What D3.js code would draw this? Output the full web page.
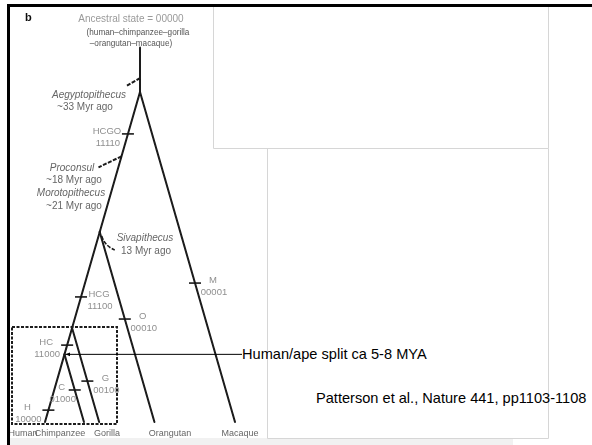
<!DOCTYPE html>
<html>
<head>
<meta charset="utf-8">
<script src="https://cdn.jsdelivr.net/npm/d3@7"></script>
<style>
  html, body { margin: 0; padding: 0; background: #fff; }
  svg { display: block; font-family: "Liberation Sans", Arial, sans-serif; }
</style>
</head>
<body>
<svg id="chart" width="592" height="445"></svg>
<script>
// Primate tree: topology and relative node heights (0 = present day)
const nodeIds      = ["root", "HCGO", "Macaque", "HCG", "Orangutan", "HC", "Gorilla", "Human", "Chimpanzee"];
const nodeParents  = ["",     "root", "root",    "HCGO", "HCGO",     "HCG", "HCG",    "HC",    "HC"];
const nodeHeights  = [10,     5.76,   0,         2.85,  0,           2.05, 0,         0,       0];
const stemHeight   = 11.35;

// Leaf captions
const taxa = ["Human", "Chimpanzee", "Gorilla", "Orangutan", "Macaque"];

// Derived-state markers on branches
const markerNames   = ["HCGO", "M", "HCG", "O", "HC", "G", "H", "C"];
const markerCodes   = ["11110", "00001", "11100", "00010", "11000", "00100", "10000", "01000"];
const markerBranch  = ["HCGO", "Macaque", "HCG", "Orangutan", "HC", "Gorilla", "Human", "Chimpanzee"];
const markerHeights = [8.73, 4.21, 3.79, 3.12, 2.33, 1.24, 0.36, 0.97];
const markerSide    = ["left", "right", "right", "right", "left", "right", "left", "inner"];

// Fossil calibrations
const fossils    = ["Aegyptopithecus", "Proconsul", "Morotopithecus", "Sivapithecus"];
const fossilAges = ["~33 Myr ago", "~18 Myr ago", "~21 Myr ago", "13 Myr ago"];

const svg = d3.select("#chart");

// Scales: height units -> vertical pixels, branch units -> horizontal pixels
const y = d3.scaleLinear().domain([0, 10]).range([422, 92]);
const x = d3.scaleLinear().domain([0, 20]).range([45, 235]);

// Build hierarchy
const rows = nodeIds.map((id, i) => ({ id, parent: nodeParents[i] || null, h: nodeHeights[i] }));
const root = d3.stratify().id(d => d.id).parentId(d => d.parent)(rows);

// Layout: the left child continues the left edge, the right child splits off
// symmetrically, so every branch has the same slope.
root.u = root.data.h;
root.eachBefore(n => {
  if (!n.children) return;
  n.children.forEach((c, i) => {
    const dh = n.data.h - c.data.h;
    c.u = i === 0 ? n.u - dh : n.u + dh;
  });
});
const byId = new Map(root.descendants().map(n => [n.id, n]));

// Slide frame (background parts)
svg.append("rect").attr("x", 10).attr("y", 438).attr("width", 503).attr("height", 7).attr("fill", "#f1f1f1");
const frame = svg.append("g").attr("fill", "none").attr("stroke", "#d6d6d6").attr("stroke-width", 1);
frame.append("path").attr("d", "M213.5,7 V148.5 H548.5 V438.5 H267.5 V148.5");
frame.append("path").attr("d", "M548.5,7 V148.5");

// Tree figure (softened scan)
const defs = svg.append("defs");
defs.append("filter").attr("id", "soft")
  .append("feGaussianBlur").attr("stdDeviation", 0.45);
defs.append("marker").attr("id", "arrowHead")
  .attr("viewBox", "0 0 10 10").attr("refX", 10).attr("refY", 5)
  .attr("markerWidth", 5).attr("markerHeight", 5).attr("orient", "auto")
  .append("path").attr("d", "M10,5 L0,1 L0,9 Z").attr("fill", "#000");

const fig = svg.append("g").attr("filter", "url(#soft)");

fig.append("text").attr("x", 25).attr("y", 21).attr("font-size", 11).attr("font-weight", "bold")
  .attr("fill", "#111").text("b");

const header = fig.append("g").attr("font-size", 8.2).attr("text-anchor", "middle");
header.append("text").attr("x", 131).attr("y", 22).attr("font-size", 10).attr("fill", "#9a9a9a")
  .text("Ancestral state = 00000");
header.append("text").attr("x", 138).attr("y", 35).attr("fill", "#555").text("(human\u2013chimpanzee\u2013gorilla");
header.append("text").attr("x", 131).attr("y", 46).attr("fill", "#555").text("\u2013orangutan\u2013macaque)");

// Branches
const branches = fig.append("g").attr("stroke", "#1a1a1a").attr("stroke-width", 2).attr("fill", "none")
  .attr("stroke-linecap", "round");
branches.append("line")
  .attr("x1", x(root.u)).attr("y1", y(stemHeight))
  .attr("x2", x(root.u)).attr("y2", y(root.data.h));
branches.selectAll("line.edge").data(root.links()).join("line").attr("class", "edge")
  .attr("x1", d => x(d.source.u)).attr("y1", d => y(d.source.data.h))
  .attr("x2", d => x(d.target.u)).attr("y2", d => y(d.target.data.h));

// Point along the branch leading into a node at a given height
function along(id, h) {
  const n = byId.get(id), p = n.parent;
  const t = (p.data.h - h) / (p.data.h - n.data.h);
  return [x(p.u + (n.u - p.u) * t), y(h)];
}

// Markers
const sideOffset = { left: -21, right: 18, inner: -13 };
const markers = fig.append("g").attr("font-size", 9.5).attr("fill", "#8f8f8f").attr("text-anchor", "middle");
markerNames.forEach((name, i) => {
  const [mx, my] = along(markerBranch[i], markerHeights[i]);
  markers.append("line").attr("x1", mx - 6).attr("x2", mx + 6).attr("y1", my).attr("y2", my)
    .attr("stroke", "#1a1a1a").attr("stroke-width", 1.6);
  const lx = mx + sideOffset[markerSide[i]];
  markers.append("text").attr("x", lx).attr("y", my - 3).attr("dy", "0.35em").text(name);
  markers.append("text").attr("x", lx + 1).attr("y", my + 9).attr("dy", "0.35em").text(markerCodes[i]);
});

// Fossil calibrations
const fossilGroup = fig.append("g").attr("font-size", 10).attr("text-anchor", "middle").attr("fill", "#666");
const fossilSpots = [[89, 94, 85, 106], [72, 167, 74, 179], [71, 192, 74, 205], [145, 237, 146, 250]];
fossils.forEach((f, i) => {
  const [fx, fy, ax, ay] = fossilSpots[i];
  fossilGroup.append("text").attr("x", fx).attr("y", fy).attr("dy", "0.35em")
    .attr("font-style", "italic").text(f);
  fossilGroup.append("text").attr("x", ax).attr("y", ay).attr("dy", "0.35em").text(fossilAges[i]);
});

// Pointers from fossils to the tree
const pointers = fig.append("g").attr("stroke", "#1a1a1a").attr("stroke-width", 2).attr("fill", "none")
  .attr("stroke-dasharray", "4,1.5");
const aeg = [x(root.u), y(10.42)];
pointers.append("line").attr("x1", aeg[0]).attr("y1", aeg[1]).attr("x2", aeg[0] - 14).attr("y2", aeg[1] + 8);
const pro = along("HCGO", 8.05);
pointers.append("line").attr("x1", pro[0]).attr("y1", pro[1]).attr("x2", pro[0] - 23).attr("y2", pro[1] + 11);
const siva = [x(byId.get("HCGO").u), y(byId.get("HCGO").data.h)];
pointers.append("path").attr("stroke-dasharray", null).attr("stroke-width", 1.6)
  .attr("d", `M${siva[0] + 2},${siva[1] + 4} Q${siva[0] + 5},${siva[1] + 14} ${siva[0] + 15},${siva[1] + 18}`);

// Dashed box around the human/chimp/gorilla clade
fig.append("rect").attr("x", 12).attr("y", 327).attr("width", 105).attr("height", 97)
  .attr("fill", "none").attr("stroke", "#1a1a1a").attr("stroke-width", 2).attr("stroke-dasharray", "3,1.5");

// Leaf captions
const captionX = [23, 60, 107, 170, 240];
fig.append("g").attr("font-size", 9).attr("fill", "#666").attr("text-anchor", "middle")
  .selectAll("text").data(taxa).join("text")
  .attr("x", (d, i) => captionX[i]).attr("y", 433).attr("dy", "0.35em").text(d => d);

// Slide frame borders
svg.append("rect").attr("x", 7).attr("y", 4).attr("width", 585).attr("height", 3).attr("fill", "#000");
svg.append("rect").attr("x", 7).attr("y", 4).attr("width", 3).attr("height", 441).attr("fill", "#000");

// Human/ape split callout
const hc = byId.get("HC");
const hcX = x(hc.u), hcY = y(hc.data.h);
svg.append("line").attr("x1", 242).attr("y1", hcY).attr("x2", hcX + 1).attr("y2", hcY)
  .attr("stroke", "#000").attr("stroke-width", 1).attr("marker-end", "url(#arrowHead)");
svg.append("text").attr("x", 242).attr("y", hcY).attr("dy", "0.35em").attr("font-size", 14.6)
  .attr("fill", "#000").text("Human/ape split ca 5-8 MYA");

svg.append("text").attr("x", 316).attr("y", 403).attr("font-size", 14.6).attr("fill", "#000")
  .text("Patterson et al., Nature 441, pp1103-1108");
</script>
</body>
</html>
